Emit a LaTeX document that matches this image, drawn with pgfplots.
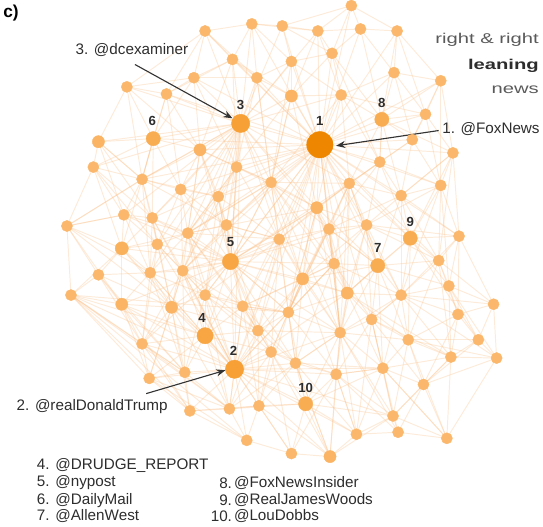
\documentclass[border=0pt]{standalone}
\usepackage{pgfplots}
\pgfplotsset{compat=1.18}
\usepackage{pgfplotstable}
\usetikzlibrary{arrows.meta}
\usepackage{fontspec}
\setmainfont{Liberation Sans}
\newfontfamily\widefont[FakeStretch=1.42]{Liberation Sans}
\definecolor{txt}{RGB}{45,45,45}
\definecolor{txtlight}{RGB}{90,90,90}
\definecolor{edgecol}{RGB}{250,188,130}
\pgfplotsset{netedge/.style={color=edgecol, line width=0.95pt, opacity=0.3, forget plot}}

\pgfplotstableread{
x y r
nan nan 5
321 145 13
237 366 9
243 124 9
208 333 8
233 260 8
157 139 7
378 264 7
382 120 7
410 237 7
307 400 7
352 8 5.5
254 26 5.5
284 28 5.5
319 33 5.5
361 31 5.5
397 33 5.5
208 33 5.5
333 55 5.5
293 63 5.5
235 61 5.5
394 74 5.5
197 79 5.5
259 79 5.5
131 88 5.5
170 95 5.5
293 97 6
342 96 5.5
440 82 5.5
425 115 5.5
412 140 5.5
380 162 5.5
452 153 5.5
273 182 5.5
350 183 5.5
440 185 5.5
318 207 6
401 195 5.5
458 235 5.5
281 238 5.5
330 228 5.5
367 224 5.5
438 259 5.5
335 262 5.5
304 277 6
103 142 6
98 167 5.5
203 150 6
239 167 5.5
146 179 5.5
184 189 5.5
221 196 5.5
128 214 5.5
156 217 5.5
72 225 5.5
191 232 5.5
229 224 5.5
126 247 6.5
161 243 5.5
103 273 5.5
154 271 5.5
186 269 5.5
76 293 5.5
126 302 6
175 305 6
208 293 5.5
245 304 5.5
146 341 5.5
188 369 5.5
153 375 5.5
193 407 5.5
232 405 5.5
249 436 5.5
261 402 5.5
260 328 5.5
348 291 6
290 310 5.5
372 317 5.5
401 293 5.5
448 284 5.5
492 302 5.5
457 312 5.5
408 337 5.5
477 337 5.5
450 354 5.5
495 355 5.5
341 330 5.5
273 349 5.5
297 360 5.5
337 371 5.5
383 365 5.5
423 381 5.5
393 412 5.5
357 430 5.5
398 428 5.5
446 434 5.5
293 449 5.5
331 452 6
}\nodetable

\def\edgelist{1/3,1/8,1/14,1/18,1/19,1/26,1/27,1/13,1/21,1/31,1/33,1/34,1/36,1/37,1/40,1/41,1/48,1/47,1/39,1/43,1/5,1/2,1/7,1/9,1/30,1/29,1/35,1/55,1/51,1/56,1/44,1/75,1/76,1/12,1/23,1/20,1/86,1/78,1/32,1/6,1/50,1/4,
3/20,3/23,3/22,3/12,3/17,3/25,3/26,3/47,3/48,3/6,3/33,3/51,3/50,3/5,3/56,3/49,3/36,3/19,3/2,3/39,3/55,3/24,
2/4,2/5,2/71,2/72,2/73,2/70,2/68,2/74,2/87,2/66,2/88,2/10,2/65,2/64,2/69,2/62,2/76,2/61,2/89,2/96,2/67,2/55,2/86,
5/56,5/51,5/39,5/55,5/61,5/65,5/66,5/44,5/36,5/33,5/48,5/43,5/4,5/74,5/58,5/53,5/76,5/40,5/60,5/50,
4/65,4/64,4/61,4/67,4/68,4/74,4/66,4/60,4/63,4/69,4/87,4/55,4/71,4/62,
6/45,6/24,6/25,6/47,6/49,6/22,6/50,6/46,6/53,
7/41,7/43,7/9,7/42,7/78,7/75,7/37,7/40,7/34,7/77,7/86,7/44,7/82,7/79,7/90,7/36,
8/27,8/29,8/30,8/21,8/31,8/18,8/16,8/28,8/34,8/37,8/15,8/32,
9/37,9/38,9/42,9/35,9/41,9/78,9/79,9/34,9/31,9/32,9/82,
10/88,10/89,10/73,10/96,10/97,10/93,10/87,10/71,10/86,10/76,10/92,10/90,
11/13,11/16,11/15,11/18,11/14,13/14,14/15,15/16,12/13,12/17,12/20,12/23,13/19,13/18,14/18,14/27,15/18,15/21,16/21,16/28,16/29,17/22,17/20,17/25,18/19,18/27,18/26,19/23,19/26,20/23,20/22,21/27,21/28,21/29,22/25,22/24,23/26,24/25,24/45,25/47,26/27,26/33,27/31,28/29,28/32,29/30,29/32,30/31,30/35,30/37,31/34,31/37,32/35,32/38,
33/36,33/39,33/48,33/51,33/40,33/34,34/36,34/37,34/40,34/41,35/37,35/38,35/42,36/39,36/40,36/41,36/43,37/41,37/38,38/42,38/79,39/40,39/43,39/44,39/56,40/41,40/43,41/43,42/79,42/78,42/81,43/44,43/75,44/75,44/76,44/66,
45/46,45/49,46/49,46/52,46/54,47/48,47/50,47/51,48/51,48/56,49/50,49/52,49/53,49/54,49/47,49/57,49/58,50/51,50/53,50/55,51/56,51/55,52/53,52/54,52/57,53/55,53/58,54/57,54/59,54/62,54/60,55/56,55/58,55/61,55/65,56/61,57/58,57/59,57/60,58/60,58/61,59/60,59/62,59/63,60/61,60/63,60/64,61/64,61/65,62/63,62/67,62/69,62/72,62/71,63/64,63/67,63/69,64/65,64/67,64/68,65/66,65/74,66/74,66/76,66/87,67/68,67/69,68/69,68/70,68/71,69/70,69/72,70/71,70/72,71/72,71/73,72/73,72/96,73/87,73/96,73/74,74/76,74/87,
75/76,75/77,75/78,75/86,76/86,76/87,76/88,77/78,77/82,77/86,77/90,78/79,78/81,78/82,79/80,79/81,80/81,80/83,80/85,81/83,81/84,81/82,82/83,82/84,82/90,82/91,83/84,83/85,84/85,84/91,84/95,85/91,86/89,86/88,86/90,87/88,88/89,89/90,89/93,89/97,90/91,90/92,90/93,91/92,91/94,91/95,92/93,92/94,92/95,93/94,93/97,94/95,96/97,95/90,97/88,
54/64,62/76,45/53,24/47,46/58,32/42,28/35,85/95,80/42,80/38,83/9,59/68,49/3,54/49,
55/33,55/39,55/48,55/47,55/64,55/66,55/57,55/52,55/60,55/74,49/51,49/56,49/60,49/45,49/6,
76/39,76/43,76/66,76/88,76/89,76/65,76/5,76/73,76/44,76/36,76/40,
78/37,78/41,78/43,78/77,78/86,78/90,78/80,78/85,78/84,78/35,
86/43,86/44,86/88,86/93,86/82,86/40,86/39,86/97,
90/75,90/84,90/89,90/94,90/77,90/95,
33/23,33/26,33/47,33/44,33/56,33/43,34/27,34/43,34/39,34/44,37/32,37/42,37/40,
61/66,61/74,61/69,64/74,64/69,65/87,58/64,57/63,53/61,53/60,51/39,56/39,56/44,48/39,48/36,47/56,
71/87,71/88,73/88,73/97,88/93,87/89,96/89,97/92,92/82,93/89,
12/14,19/27,22/23,20/26,17/24,25/20,27/29,30/34,41/44,36/44,40/75,43/77,75/89,77/89,79/84,79/85,81/91,83/91,
33/5,33/55,33/61,33/76,33/86,33/75,34/75,34/86,34/76,34/7,36/75,36/76,36/86,36/5,36/55,39/66,39/74,39/65,39/61,39/87,40/44,40/76,40/86,40/7,41/75,41/86,41/77,43/86,43/76,43/66,43/88,44/87,44/88,44/89,44/74,
47/55,47/5,48/55,48/5,48/61,50/56,50/61,50/58,51/61,51/65,51/5,53/64,53/57,56/65,56/66,56/74,58/65,58/67,60/65,60/67,60/68,61/67,61/68,61/2,63/68,63/70,64/70,64/71,65/68,65/71,66/73,66/88,66/71,67/70,67/71,69/71,70/73,74/88,74/71,74/86,87/96,87/97,88/97,88/90,89/92,89/94,
75/82,75/84,75/7,75/9,77/84,77/91,77/92,77/93,82/85,82/95,83/79,84/92,86/92,86/94,
31/35,31/36,31/40,31/41,31/8,27/33,27/36,26/36,26/48,23/48,23/33,20/48,20/47,22/47,22/48,25/49,25/50,24/49,17/23,12/19,19/33,14/26,18/31,21/30,28/30,29/35,32/37,35/41,35/79,38/78,38/41,38/81,42/82,42/84,42/41,
45/52,46/53,46/57,52/58,52/60,54/63,54/52,57/62,57/64,59/64,59/67,62/68,62/70,
1/49,1/53,1/61,1/65,1/66,1/74,1/77,1/42,1/38,1/17,1/22,1/25,1/16,1/28,1/15,1/11,
2/60,2/63,2/58,2/39,2/44,2/43,2/75,2/90,2/93,2/97,2/92,2/57,2/53,
3/53,3/58,3/60,3/61,3/65,3/44,3/40,3/34,3/27,3/14,3/13,3/45,3/46,3/52,
5/57,5/52,5/63,5/64,5/67,5/87,5/88,5/75,5/86,5/41,5/34}

\begin{document}
\begin{tikzpicture}
\begin{axis}[
  scale only axis, width=543pt, height=522pt,
  xmin=0, xmax=543, ymin=0, ymax=522, y dir=reverse,
  hide axis, clip=false,
  colormap={nodes}{rgb255(0cm)=(251,184,108); rgb255(3cm)=(248,164,62); rgb255(8cm)=(238,134,0)},
  point meta min=5.5, point meta max=13,
]
\foreach \a/\b in \edgelist {%
  \pgfplotstablegetelem{\a}{x}\of\nodetable\let\xa\pgfplotsretval
  \pgfplotstablegetelem{\a}{y}\of\nodetable\let\ya\pgfplotsretval
  \pgfplotstablegetelem{\b}{x}\of\nodetable\let\xb\pgfplotsretval
  \pgfplotstablegetelem{\b}{y}\of\nodetable\let\yb\pgfplotsretval
  \edef\tmp{\noexpand\addplot[netedge] coordinates {(\xa,\ya) (\xb,\yb)};}\tmp
}
\addplot[scatter, only marks, mark=*,
  point meta=\thisrow{r},
  visualization depends on={\thisrow{r}\as\rad},
  scatter/use mapped color={draw=mapped color, fill=mapped color},
  scatter/@pre marker code/.append style={/tikz/mark size=\rad}]
  table[x=x, y=y] {\nodetable};

% node numbers
\foreach \n/\px/\py in {1/321/122, 2/236/348, 3/243/106, 4/205/316, 5/233/241, 6/156/122, 7/378/247, 8/382/104, 9/410/221, 10/307/384}{
  \edef\tmp{\noexpand\node[font=\noexpand\fontsize{13}{14}\noexpand\selectfont\noexpand\bfseries, text=txt] at (axis cs:\px,\py) {\n};}\tmp
}

% arrows
\draw[-{Stealth[length=9pt,width=7pt]}, line width=1.1pt, color=black!80] (axis cs:438,131) -- (axis cs:337,146);
\draw[-{Stealth[length=9pt,width=7pt]}, line width=1.1pt, color=black!80] (axis cs:139,66) -- (axis cs:235,119);
\draw[-{Stealth[length=9pt,width=7pt]}, line width=1.1pt, color=black!80] (axis cs:150,390) -- (axis cs:228,367);

% callout labels
\node[anchor=west, font=\fontsize{15}{16}\selectfont, text=txt] at (axis cs:438,130) {1. @FoxNews};
\node[anchor=center, font=\fontsize{15}{16}\selectfont, text=txt] at (axis cs:136,52) {3. @dcexaminer};
\node[anchor=west, font=\fontsize{15}{16}\selectfont, text=txt] at (axis cs:19,403) {2. @realDonaldTrump};

% panel label
\node[anchor=center, font=\fontsize{17}{18}\selectfont\bfseries, text=black] at (axis cs:17,15) {c)};

% category text
\node[anchor=east, font=\widefont\fontsize{14}{15}\selectfont, text=txtlight] at (axis cs:540,42) {right \& right};
\node[anchor=east, font=\widefont\fontsize{14}{15}\selectfont\bfseries, text=txt] at (axis cs:540,67) {leaning};
\node[anchor=east, font=\widefont\fontsize{14}{15}\selectfont, text=txtlight] at (axis cs:540,91) {news};

% list
\node[anchor=west, font=\fontsize{15}{16}\selectfont, text=txt] at (axis cs:39,461) {4. @DRUDGE\_REPORT};
\node[anchor=west, font=\fontsize{15}{16}\selectfont, text=txt] at (axis cs:39,478) {5. @nypost};
\node[anchor=west, font=\fontsize{15}{16}\selectfont, text=txt] at (axis cs:39,495) {6. @DailyMail};
\node[anchor=west, font=\fontsize{15}{16}\selectfont, text=txt] at (axis cs:39,511) {7. @AllenWest};
\node[anchor=east, font=\fontsize{15}{16}\selectfont, text=txt] at (axis cs:238,478) {8.};
\node[anchor=east, font=\fontsize{15}{16}\selectfont, text=txt] at (axis cs:238,495) {9.};
\node[anchor=east, font=\fontsize{15}{16}\selectfont, text=txt] at (axis cs:238,511) {10.};
\node[anchor=west, font=\fontsize{15}{16}\selectfont, text=txt] at (axis cs:233,478) {@FoxNewsInsider};
\node[anchor=west, font=\fontsize{15}{16}\selectfont, text=txt] at (axis cs:233,495) {@RealJamesWoods};
\node[anchor=west, font=\fontsize{15}{16}\selectfont, text=txt] at (axis cs:233,511) {@LouDobbs};
\end{axis}
\end{tikzpicture}
\end{document}
